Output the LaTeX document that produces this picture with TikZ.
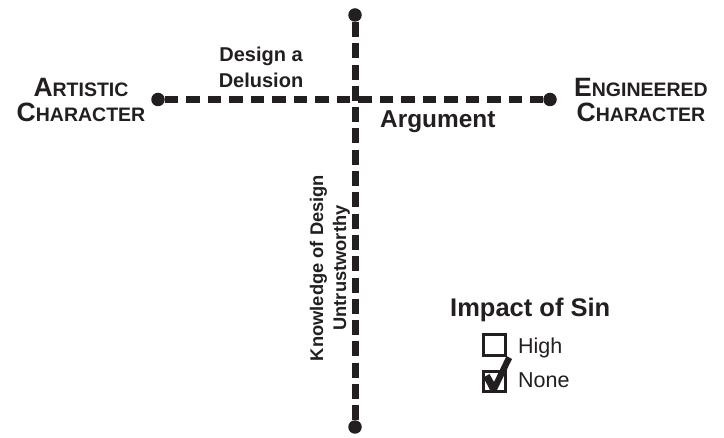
\documentclass[tikz,border=0pt]{standalone}
\usepackage{fontspec}
\setmainfont{Liberation Sans}
\definecolor{ink}{HTML}{231F20}
\newcommand{\fsz}[2]{\fontsize{#1}{#2}\selectfont}
\newcommand{\bigsc}[2]{{\fsz{26.5}{26.5}#1}{\fsz{19.5}{19.5}#2}}
\begin{document}
\begin{tikzpicture}[x=1pt,y=-1pt,
  dot/.style={circle,fill=ink,draw=none,minimum size=13.5pt,inner sep=0pt},
  axisline/.style={draw=ink,line width=7pt},
  hdash/.style={axisline,dash pattern=on 13.5pt off 8pt},
  vdash/.style={axisline,dash pattern=on 15pt off 6.3pt},
  lbl/.style={inner sep=0pt,text=ink,font=\bfseries},
  box/.style={draw=ink,line width=3pt,minimum width=22pt,minimum height=20.5pt,inner sep=0pt}
]
\useasboundingbox[fill=white] (0,0) rectangle (724,438);
% end dots
\node[dot] (top) at (355,15) {};
\node[dot] (bot) at (355,427) {};
\node[dot] (left) at (158,99.5) {};
\node[dot] (right) at (550,99.5) {};
% axes
\draw[hdash] (left) -- (right);
\draw[vdash] (top) -- (bot);
% labels
\node[lbl,anchor=base,align=center,font=\bfseries\fsz{19.5}{25}] (artistic) at (81,121.7)
  {\bigsc{A}{RTISTIC}\\[0pt]\bigsc{C}{HARACTER}};
\node[lbl,anchor=base,align=center,font=\bfseries\fsz{19.5}{25}] (engineered) at (641,121.7)
  {\bigsc{E}{NGINEERED}\\[0pt]\bigsc{C}{HARACTER}};
\node[lbl,anchor=base,align=center,font=\bfseries\fsz{20}{25.5}] (delusion) at (261,87.5)
  {Design a\\Delusion};
\node[lbl,anchor=base west,font=\bfseries\fsz{24.4}{28}] (argument) at (380,128) {Argument};
\node[lbl,rotate=90,align=center,font=\bfseries\fsz{18.3}{23}] (knowledge) at (330,268)
  {Knowledge of Design\\Untrustworthy};
% legend
\node[lbl,anchor=base west,font=\bfseries\fsz{25.5}{30}] (impact) at (450,317) {Impact of Sin};
\node[box] (boxhigh) at (494.5,345) {};
\node[box] (boxnone) at (494.5,381.5) {};
\node[lbl,anchor=base west,font=\fsz{21.5}{25}] (high) at (518,354) {High};
\node[lbl,anchor=base west,font=\fsz{21.5}{25}] (none) at (518,388) {None};
\fill[ink] (483.5,377.5) -- (489.5,374) -- (494,382) -- (506.5,356) -- (512,359) -- (496,392) -- (491,392) -- cycle;
\end{tikzpicture}
\end{document}
